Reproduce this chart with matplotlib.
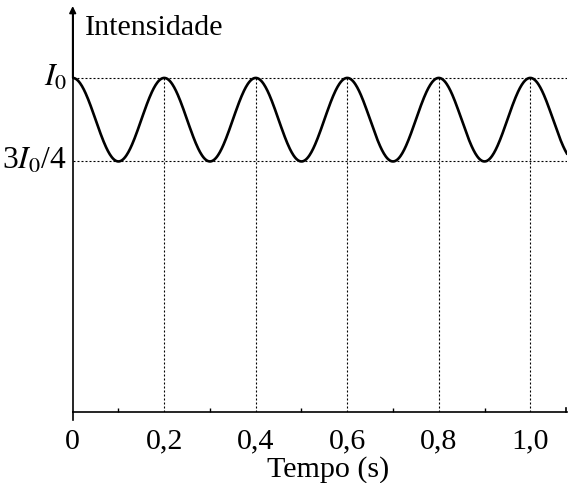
import numpy as np
import matplotlib
matplotlib.use("Agg")
import matplotlib.pyplot as plt

plt.rcParams['font.family'] = ['Liberation Serif', 'DejaVu Serif']
plt.rcParams['mathtext.fontset'] = 'stix'

# values
I0 = 1.0          # peak intensity
I_min = 0.75      # 3*I0/4
period = 0.2      # s
t_end = 1.08
x_ticks = [0, 0.2, 0.4, 0.6, 0.8, 1.0]
x_tick_labels = ['0', '0,2', '0,4', '0,6', '0,8', '1,0']
y_levels = [I0, I_min]
y_level_labels = [r'$I_0$', r'3$I_0$/4']

t = np.linspace(0, t_end, 800)
intensity = I_min + (I0 - I_min) * (1 + np.cos(2 * np.pi * t / period)) / 2

fs = 21.6
dash = (0, (1.8, 1.8))
fig = plt.figure(figsize=(5.68, 4.83), dpi=100)
ax = fig.add_axes([0.128, 0.147, 0.870, 0.830])

# dotted guide lines
for y in y_levels:
    ax.plot([0, t_end], [y, y], color='black', lw=0.8, ls=dash)
for x in x_ticks[1:]:
    ax.plot([x, x], [0, I0], color='black', lw=0.8, ls=dash)

ax.plot(t, intensity, color='black', lw=1.9)

ax.set_xlim(0, t_end)
ax.set_ylim(0, 1.2)
ax.spines['top'].set_visible(False)
ax.spines['right'].set_visible(False)
ax.spines['left'].set_linewidth(1.2)
ax.spines['bottom'].set_linewidth(1.2)

ax.set_xticks(x_ticks)
ax.set_xticklabels(x_tick_labels, fontsize=fs)
ax.set_xticks(np.arange(0.1, 1.1, 0.2), minor=True)
ax.tick_params(axis='x', which='major', length=0, pad=12)
ax.tick_params(axis='x', which='minor', direction='in', length=3, width=1)
ax.set_yticks([])

# y labels
for y, lab in zip(y_levels, y_level_labels):
    ax.text(-0.013, y, lab, fontsize=fs + 1, ha='right', va='center')

# axis arrow and title
ax.annotate('', xy=(0, 1.215), xytext=(0, 1.0), xycoords='data',
            arrowprops=dict(arrowstyle='-|>', color='black', lw=1.2,
                            mutation_scale=10, shrinkA=0, shrinkB=0),
            annotation_clip=False)
ax.plot([0, 0], [1.0, 1.2], color='black', lw=1.2, clip_on=False)
ax.plot([0, 0], [0, -0.025], color='black', lw=1.2, clip_on=False)
ax.plot([t_end - 0.001] * 2, [0, 0.012], color='black', lw=1.2, clip_on=False)
ax.text(0.027, 1.127, 'Intensidade', fontsize=fs, ha='left', va='baseline')

fig.text(328 / 568, 6 / 483, 'Tempo (s)', fontsize=fs, ha='center', va='baseline')

fig.savefig('out.png', dpi=100)
